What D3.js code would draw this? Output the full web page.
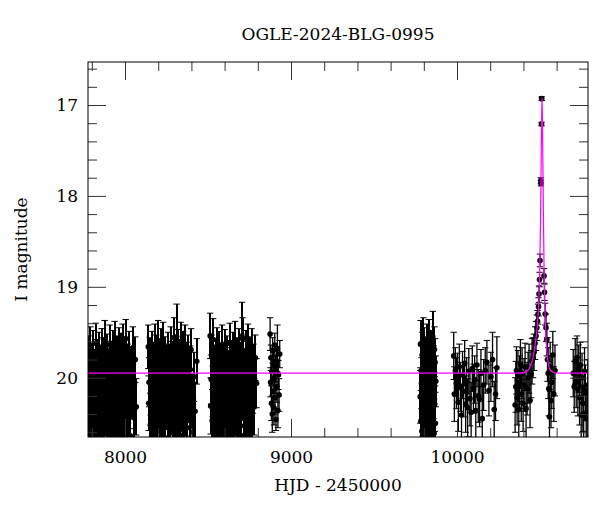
<!DOCTYPE html>
<html lang="en">
<head>
<meta charset="UTF-8">
<title>OGLE-2024-BLG-0995</title>
<script src="https://d3js.org/d3.v7.min.js"></script>
<style>
  body { margin: 0; background: #fff; }
  svg { display: block; font-family: "DejaVu Serif", serif; }
  .tick line { stroke: #333; }
  .tick text { fill: #000; font-size: 17px; font-family: "DejaVu Serif", serif; }
</style>
</head>
<body>
<svg id="chart" width="600" height="512"></svg>
<script>
// Axis setup
const xDomain = [7777, 10789];
const yDomain = [16.527, 20.652];
const xMajorTicks = [8000, 9000, 10000];
const yMajorTicks = [17, 18, 19, 20];

// Photometry, one season per set: HJD-2450000, I mag, error
const s1Hjd = [7778,7781,7783,7787,7790,7792,7796,7799,7801,7805,7808,7810,7814,7817,7820,7823,7826,7829,7832,7835,7838,7841,7843,7847,7850,7853,7856,7859,7862,7865,7868,7871,7874,7877,7880,7882,7886,7889,7892,7895,7898,7901,7904,7907,7910,7913,7916,7919,7922,7925,7928,7931,7934,7937,7940,7943,7946,7949,7952,7955,7958,7961,7964,7967,7970,7973,7976,7979,7982,7985,7988,7991,7994,7997,8000,8004,8008,8012,8016,8020,8024,8028,8032,8037,8042,8047,8052,8057,8062,8068];
const s1Mag = [20.12,19.78,20.45,19.93,20.31,19.66,20.58,20.04,19.87,20.39,19.71,20.22,20.63,19.95,20.10,19.62,20.49,20.27,19.83,20.71,19.99,20.36,19.74,20.15,20.55,19.90,20.06,19.69,20.42,20.19,19.81,20.60,20.02,19.58,20.33,20.11,19.88,20.47,19.76,20.25,20.68,19.94,20.08,19.64,20.38,20.17,19.85,20.52,19.97,20.29,19.72,20.43,20.05,19.60,20.34,20.20,19.91,20.62,19.79,20.13,20.40,19.68,20.01,20.56,19.86,20.24,19.75,20.46,20.09,19.63,20.30,19.98,20.67,19.82,20.18,19.57,20.37,20.03,19.89,20.50,19.73,20.26,20.64,19.92,20.14,19.67,20.44,20.07,19.80,20.32];
const s1Err = [.28,.24,.34,.26,.31,.22,.37,.27,.25,.33,.23,.29,.38,.26,.28,.22,.35,.30,.25,.40,.27,.32,.24,.28,.36,.26,.27,.23,.34,.29,.25,.37,.27,.21,.31,.28,.26,.34,.24,.30,.39,.26,.27,.22,.32,.29,.25,.35,.27,.30,.24,.33,.27,.22,.31,.29,.26,.38,.25,.28,.33,.23,.27,.36,.25,.30,.24,.34,.28,.22,.31,.27,.39,.25,.29,.21,.32,.27,.26,.35,.24,.30,.38,.26,.28,.23,.34,.27,.25,.31];

const s2Hjd = [8140,8143,8145,8149,8152,8155,8157,8161,8164,8166,8170,8173,8176,8178,8182,8185,8188,8190,8194,8197,8200,8202,8206,8209,8212,8214,8218,8221,8224,8226,8230,8233,8236,8238,8242,8245,8248,8251,8254,8257,8260,8263,8266,8269,8272,8275,8278,8281,8284,8287,8290,8293,8296,8299,8302,8305,8308,8311,8314,8317,8320,8323,8326,8329,8332,8335,8338,8341,8344,8347,8350,8353,8356,8359,8362,8365,8368,8371,8374,8377,8381,8385,8389,8393,8398,8403,8409,8415,8422,8432];
const s2Mag = [19.66,20.28,20.05,19.81,20.52,20.13,19.92,20.41,19.73,20.19,20.61,19.87,20.00,19.64,20.35,20.22,19.78,20.48,19.96,20.11,19.59,20.30,20.07,19.84,20.57,19.70,20.24,20.44,19.93,20.02,19.62,20.38,20.16,19.80,20.66,19.98,20.09,19.90,20.27,20.46,19.75,20.14,19.89,20.53,20.03,19.67,20.32,20.21,19.85,20.59,19.94,20.12,19.56,20.40,19.79,20.25,20.69,19.55,20.06,19.71,20.36,20.18,19.83,20.50,19.97,19.61,20.29,20.08,19.88,20.63,19.74,20.15,20.42,19.95,19.65,20.33,20.04,19.86,20.55,20.20,19.77,20.10,20.47,19.91,19.69,20.26,20.60,19.99,20.37,19.82];
const s2Err = [.24,.30,.27,.25,.35,.28,.26,.32,.24,.29,.38,.26,.27,.23,.31,.30,.25,.34,.27,.28,.22,.31,.27,.25,.36,.24,.29,.33,.26,.27,.23,.32,.28,.25,.39,.27,.28,.26,.30,.33,.25,.28,.26,.35,.27,.23,.31,.29,.25,.37,.26,.28,.22,.32,.25,.30,.40,.36,.27,.24,.31,.29,.25,.34,.27,.22,.30,.27,.26,.38,.25,.28,.33,.26,.23,.31,.27,.25,.36,.29,.24,.28,.34,.26,.23,.30,.37,.27,.32,.25];

const s3Hjd = [8513,8516,8519,8522,8525,8528,8531,8534,8537,8540,8543,8546,8549,8552,8555,8558,8561,8564,8567,8570,8573,8576,8579,8582,8585,8588,8591,8594,8597,8600,8603,8606,8609,8612,8615,8618,8621,8624,8627,8630,8633,8636,8639,8642,8645,8648,8651,8654,8657,8660,8663,8666,8669,8672,8675,8678,8681,8684,8687,8690,8693,8696,8699,8702,8705,8708,8711,8714,8717,8720,8723,8726,8729,8732,8735,8738,8741,8744,8747,8750,8753,8756,8759,8762,8766,8770,8774,8779,8785,8792];
const s3Mag = [19.54,20.31,20.02,19.77,20.47,20.15,19.58,20.38,19.90,20.24,20.60,19.82,20.08,19.68,20.43,20.19,19.95,20.55,19.73,20.12,20.34,19.88,20.63,20.04,19.65,20.27,20.49,19.86,20.17,19.71,20.40,20.01,19.93,20.58,19.79,20.22,20.66,19.97,20.10,19.62,20.36,20.13,19.84,20.52,20.05,19.74,20.29,20.45,19.91,20.20,19.60,20.33,20.07,19.81,20.61,19.99,20.25,19.69,20.41,20.14,19.87,20.53,20.03,19.76,19.55,19.57,20.18,20.64,19.94,20.09,20.39,19.72,20.23,20.50,19.85,20.00,19.63,20.35,20.16,19.80,20.57,19.96,20.26,19.70,20.44,20.11,19.89,20.32,19.78,20.06];
const s3Err = [.25,.31,.27,.24,.34,.28,.23,.32,.26,.29,.37,.25,.27,.23,.33,.29,.26,.36,.24,.28,.31,.26,.39,.27,.23,.30,.34,.25,.28,.24,.32,.27,.26,.36,.25,.29,.40,.27,.28,.22,.31,.28,.25,.35,.27,.24,.30,.33,.26,.29,.22,.31,.27,.25,.38,.27,.30,.23,.32,.28,.26,.35,.27,.24,.38,.23,.29,.39,.26,.28,.32,.24,.29,.34,.25,.27,.22,.31,.28,.25,.36,.26,.30,.24,.33,.28,.26,.31,.25,.27];

const s4Hjd = [8874,8877,8879,8882,8884,8887,8889,8892,8894,8897,8899,8902,8904,8907,8909,8912,8915,8918,8921,8924,8928,8932];
const s4Mag = [19.52,20.05,19.78,20.28,19.93,20.40,19.70,20.15,19.86,20.33,20.01,19.64,20.22,19.90,20.46,19.81,20.10,19.68,20.36,19.97,20.19,19.74];
const s4Err = [.18,.16,.14,.19,.15,.20,.14,.17,.15,.19,.16,.13,.18,.15,.12,.15,.17,.26,.19,.16,.18,.15];

const s5Hjd = [9778,9780,9782,9784,9786,9788,9790,9792,9794,9796,9798,9800,9802,9804,9806,9808,9810,9812,9814,9816,9818,9820,9822,9824,9826,9828,9830,9832,9834,9836,9838,9840,9842,9844,9846,9848,9850,9852,9854,9856,9858,9860,9862,9864,9866,9868,9870,9872];
const s5Mag = [20.21,19.63,20.48,19.92,20.06,20.59,19.75,20.33,19.86,20.14,19.58,20.42,20.01,19.70,20.27,20.64,19.95,20.10,19.81,20.38,20.53,19.66,20.18,19.89,20.45,20.03,19.60,20.30,20.69,19.78,20.12,19.97,20.36,19.73,20.55,20.08,19.84,20.24,19.55,20.40,20.16,19.91,20.61,19.69,20.29,19.83,20.50,20.04];
const s5Err = [.29,.26,.34,.27,.28,.37,.25,.31,.26,.29,.24,.33,.28,.25,.30,.39,.27,.28,.26,.32,.35,.25,.29,.27,.33,.28,.24,.30,.40,.26,.28,.27,.32,.25,.36,.28,.26,.30,.28,.33,.29,.26,.38,.25,.30,.26,.34,.28];

const s6Hjd = [9980,9984,9990,9996,10003,10008,10014,10020,10027,10033,10040,10046,10052,10058,10064,10071,10078,10085,10092,10099,10106,10113,10120,10128,10136,10144,10152,10160,10170,10180,10192,10204,10214,10224,10232,10240];
const s6Mag = [19.76,20.18,19.92,20.06,20.00,20.27,19.88,20.10,20.41,19.97,20.15,19.84,20.29,20.05,20.33,19.93,20.23,20.38,19.90,20.12,20.02,20.36,19.86,20.20,20.24,19.95,20.45,20.08,19.92,19.83,20.14,19.99,19.80,20.35,20.18,19.89];
const s6Err = [.26,.30,.25,.28,.27,.32,.25,.27,.34,.26,.28,.25,.31,.27,.32,.25,.30,.33,.25,.27,.26,.33,.24,.29,.30,.26,.35,.28,.25,.24,.28,.27,.30,.31,.29,.34];

const s7Hjd = [10350,10354,10358,10362,10367,10372,10377,10382,10387,10392,10398,10404,10410,10416,10422,10428,10434,10440,10446,10452,10458,10464,10470,10476,10481,10485,10488,10491,10494,10497,10500];
const s7Mag = [20.30,20.10,19.92,20.22,19.98,20.35,20.05,19.85,20.18,19.95,20.28,20.08,19.88,20.34,20.12,20.00,19.90,20.25,19.96,19.82,19.78,19.72,19.62,19.54,19.45,19.38,19.30,19.22,19.08,18.92,18.71];
const s7Err = [.30,.28,.26,.30,.28,.32,.29,.27,.30,.28,.31,.29,.26,.32,.29,.28,.27,.30,.26,.25,.22,.20,.18,.16,.14,.12,.11,.10,.09,.08,.07];

const peakHjd = [10505,10505.5,10509,10510,10524,10527];
const peakMag = [17.83,17.86,17.21,16.93,18.88,19.06];
const peakErr = [.03,.03,.02,.02,.08,.09];

const s8Hjd = [10531,10536,10541,10545,10549,10553,10557,10561,10566,10571,10577,10583,10590];
const s8Mag = [19.30,19.45,19.58,19.80,19.95,20.12,20.43,19.88,20.25,20.05,19.75,20.18,19.92];
const s8Err = [.12,.15,.18,.24,.28,.30,.30,.27,.30,.29,.26,.30,.28];

const s9Hjd = [10700,10706,10712,10718,10723,10728,10733,10738,10743,10748,10753,10758,10763,10768,10773,10778,10784,10788];
const s9Mag = [19.95,20.10,19.82,20.05,19.78,20.13,19.90,20.22,19.86,20.41,20.00,20.28,20.40,19.93,20.15,20.45,20.38,20.08];
const s9Err = [.26,.28,.25,.28,.24,.29,.26,.30,.25,.32,.27,.31,.32,.26,.29,.33,.31,.28];

// Model light curve
const modelHjd = [7777,10380,10420,10440,10452,10470,10482,10490,10497,10503,10507,10510,10512,10514,10517,10521,10525,10530,10537,10548,10560,10580,10620,10789];
const modelMag = [19.95,19.95,19.93,19.88,19.82,19.65,19.45,19.26,18.90,18.30,17.60,17.10,16.92,17.10,17.60,18.30,18.90,19.26,19.60,19.82,19.91,19.94,19.95,19.95];

// Layout
const width = 600, height = 512;
const margin = { top: 62, right: 12, bottom: 75, left: 88 };
const iw = width - margin.left - margin.right;
const ih = height - margin.top - margin.bottom;

const x = d3.scaleLinear().domain(xDomain).range([0, iw]);
const y = d3.scaleLinear().domain(yDomain).range([0, ih]);

const svg = d3.select('#chart');
const g = svg.append('g').attr('transform', `translate(${margin.left},${margin.top})`);

g.append('clipPath').attr('id', 'clip')
  .append('rect').attr('width', iw).attr('height', ih);

// Gather points; crowded seasons get heavier bars so they merge like the original
const seasons = [
  [s1Hjd, s1Mag, s1Err, true], [s2Hjd, s2Mag, s2Err, true], [s3Hjd, s3Mag, s3Err, true],
  [s4Hjd, s4Mag, s4Err, false], [s5Hjd, s5Mag, s5Err, true], [s6Hjd, s6Mag, s6Err, false],
  [s7Hjd, s7Mag, s7Err, false], [peakHjd, peakMag, peakErr, false], [s8Hjd, s8Mag, s8Err, false],
  [s9Hjd, s9Mag, s9Err, false]
];
const points = [];
seasons.forEach(([t, m, e, dense]) =>
  t.forEach((v, i) => points.push({ t: v, m: m[i], e: e[i], dense })));

const plot = g.append('g').attr('clip-path', 'url(#clip)');
const cap = 3.2;

const bars = plot.append('g').attr('stroke', '#000');
points.forEach(p => {
  const px = x(p.t), y1 = y(p.m - p.e), y2 = y(p.m + p.e);
  bars.append('line').attr('x1', px).attr('x2', px).attr('y1', y1).attr('y2', y2)
    .attr('stroke-width', p.dense ? 2 : 1.3)
    .attr('shape-rendering', p.dense ? 'crispEdges' : null);
  bars.append('line').attr('x1', px - cap).attr('x2', px + cap).attr('y1', y1).attr('y2', y1)
    .attr('stroke-width', 1);
  bars.append('line').attr('x1', px - cap).attr('x2', px + cap).attr('y1', y2).attr('y2', y2)
    .attr('stroke-width', 1);
});

plot.append('g').selectAll('circle').data(points).join('circle')
  .attr('cx', d => x(d.t)).attr('cy', d => y(d.m)).attr('r', 2.8)
  .attr('fill', '#000');

// Model
const model = modelHjd.map((t, i) => [t, modelMag[i]]);
plot.append('path')
  .attr('d', d3.line().x(d => x(d[0])).y(d => y(d[1])).curve(d3.curveMonotoneX)(model))
  .attr('fill', 'none').attr('stroke', '#ff00ff').attr('stroke-width', 1.2);

// Axes, ticks inward on all four sides
const xMinor = d3.range(7800, 10789, 200).filter(v => !xMajorTicks.includes(v));
const yMinor = d3.range(16.6, 20.65, 0.2).map(v => +v.toFixed(1)).filter(v => !yMajorTicks.includes(v));

function addAxis(gen, tr, vals, size, labels, pad) {
  const a = g.append('g').attr('transform', tr)
    .call(gen.tickValues(vals).tickSize(-size).tickPadding(pad || 3)
      .tickFormat(labels ? d3.format('d') : ''));
  a.select('.domain').remove();
  return a;
}
addAxis(d3.axisBottom(x), `translate(0,${ih})`, xMinor, 9);
addAxis(d3.axisBottom(x), `translate(0,${ih})`, xMajorTicks, 18, true, 14);
addAxis(d3.axisTop(x), 'translate(0,0)', xMinor, 9);
addAxis(d3.axisTop(x), 'translate(0,0)', xMajorTicks, 18);
addAxis(d3.axisLeft(y), 'translate(0,0)', yMinor, 9);
addAxis(d3.axisLeft(y), 'translate(0,0)', yMajorTicks, 18, true, 10);
addAxis(d3.axisRight(y), `translate(${iw},0)`, yMinor, 9);
addAxis(d3.axisRight(y), `translate(${iw},0)`, yMajorTicks, 18);

g.append('rect').attr('width', iw).attr('height', ih)
  .attr('fill', 'none').attr('stroke', '#000').attr('stroke-width', 1);

// Texts
svg.append('text').attr('x', margin.left + iw / 2).attr('y', 40)
  .attr('text-anchor', 'middle').attr('font-size', 17)
  .text('OGLE-2024-BLG-0995');
svg.append('text').attr('x', margin.left + iw / 2).attr('y', 491)
  .attr('text-anchor', 'middle').attr('font-size', 17)
  .text('HJD - 2450000');
svg.append('text')
  .attr('transform', `translate(27,${margin.top + ih / 2}) rotate(-90)`)
  .attr('text-anchor', 'middle').attr('font-size', 17)
  .text('I magnitude');
</script>
</body>
</html>
